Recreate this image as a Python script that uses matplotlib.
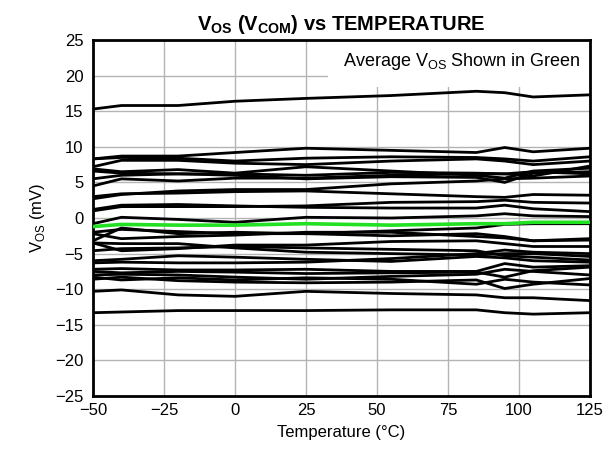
import matplotlib
matplotlib.use("Agg")
import matplotlib.pyplot as plt

plt.rcParams['font.family'] = ['Liberation Sans', 'DejaVu Sans']
plt.rcParams['mathtext.fontset'] = 'custom'
plt.rcParams['mathtext.rm'] = 'Liberation Sans'
plt.rcParams['mathtext.bf'] = 'Liberation Sans:bold'

# temperature points (degC)
temps = [-50, -40, -20, 0, 25, 55, 85, 95, 105, 125]

# Vos of each unit (mV)
units = [
    [15.3, 15.8, 15.8, 16.4, 16.8, 17.2, 17.8, 17.6, 17.0, 17.3],
    [8.3, 8.7, 8.7, 9.2, 9.8, 9.5, 9.2, 9.9, 9.3, 9.8],
    [8.3, 8.5, 8.4, 8.0, 8.4, 8.6, 8.5, 8.3, 8.0, 8.6],
    [7.2, 8.1, 8.1, 7.7, 7.5, 8.0, 8.3, 8.0, 7.5, 8.0],
    [6.9, 6.5, 6.8, 6.3, 7.2, 6.6, 6.0, 5.6, 6.6, 7.0],
    [6.6, 6.3, 6.2, 6.2, 6.0, 6.4, 6.3, 6.2, 5.9, 7.3],
    [5.5, 6.0, 6.2, 6.0, 5.5, 5.8, 5.7, 5.0, 6.3, 6.5],
    [4.5, 5.5, 5.2, 5.6, 5.6, 6.0, 6.2, 6.2, 6.5, 6.2],
    [3.0, 3.4, 3.5, 3.7, 3.8, 3.4, 3.0, 2.9, 3.3, 3.2],
    [2.7, 3.3, 3.8, 4.0, 4.0, 4.8, 5.2, 5.5, 5.6, 5.9],
    [1.0, 1.6, 1.6, 1.6, 1.7, 2.2, 2.3, 2.5, 2.2, 2.1],
    [1.2, 1.8, 1.9, 1.7, 1.5, 1.4, 1.4, 1.8, 1.3, 0.9],
    [-0.8, 0.1, -0.2, -0.6, 0.1, 0.0, 0.3, 0.6, 0.3, 0.2],
    [-2.0, -1.6, -1.9, -2.2, -2.2, -1.8, -1.4, -0.9, -0.8, -0.8],
    [-2.2, -2.9, -2.6, -2.4, -2.0, -2.0, -2.6, -2.8, -3.2, -2.9],
    [-3.2, -1.4, -2.2, -2.0, -2.2, -2.5, -2.2, -2.6, -3.2, -3.1],
    [-3.5, -4.6, -4.3, -3.8, -3.8, -3.3, -3.2, -3.6, -4.0, -4.0],
    [-3.5, -3.6, -3.6, -4.2, -4.8, -5.0, -5.2, -5.0, -5.0, -5.4],
    [-4.6, -4.3, -4.2, -4.0, -4.2, -4.4, -4.6, -5.3, -5.5, -5.9],
    [-6.0, -5.8, -5.3, -5.5, -5.8, -6.1, -5.4, -5.6, -6.0, -6.2],
    [-6.3, -6.2, -6.3, -6.3, -6.2, -5.7, -5.0, -4.5, -4.8, -5.0],
    [-7.2, -7.1, -7.3, -7.3, -7.2, -7.5, -7.5, -6.4, -6.9, -6.7],
    [-7.5, -7.7, -7.5, -7.6, -7.8, -7.7, -7.6, -8.3, -7.4, -6.9],
    [-8.0, -7.9, -8.0, -8.3, -8.6, -8.2, -7.9, -7.2, -7.5, -8.0],
    [-8.6, -8.3, -8.8, -9.0, -9.1, -9.0, -8.7, -9.9, -9.3, -8.5],
    [-8.3, -8.7, -8.4, -8.7, -8.4, -8.6, -9.3, -8.6, -9.0, -9.4],
    [-10.3, -10.1, -10.8, -11.0, -10.3, -10.6, -10.8, -11.2, -11.2, -11.6],
    [-13.3, -13.2, -13.0, -13.0, -13.0, -12.9, -12.9, -13.3, -13.5, -13.3],
]

# average Vos (green)
average = [-1.2, -0.9, -1.0, -1.0, -0.8, -1.0, -0.8, -0.8, -0.6, -0.6]

x_ticks = [-50, -25, 0, 25, 50, 75, 100, 125]
y_ticks = [-25, -20, -15, -10, -5, 0, 5, 10, 15, 20, 25]

fig = plt.figure(figsize=(6.15, 4.49), dpi=100)
ax = fig.add_axes([0.1512, 0.118, 0.808, 0.7929])

for u in units:
    ax.plot(temps, u, color='black', lw=2, solid_joinstyle='round')
ax.plot(temps, average, color='#22e022', lw=2.6, zorder=3)

ax.set_xlim(-50, 125)
ax.set_ylim(-25, 25)
ax.set_xticks(x_ticks)
ax.set_yticks(y_ticks)
ax.grid(True, color='#b4b4b4', lw=1)
ax.set_axisbelow(True)
ax.tick_params(length=0, labelsize=12)
ax.tick_params(axis='x', pad=5)
ax.tick_params(axis='y', pad=7)
for s in ax.spines.values():
    s.set_linewidth(2)

ax.set_xlabel('Temperature (°C)', fontsize=12, labelpad=5)
ax.set_ylabel('V$_{\\mathrm{OS}}$ (mV)', fontsize=12, labelpad=6)
ax.set_title('V$_{\\mathbf{OS}}$ (V$_{\\mathbf{COM}}$) vs TEMPERATURE',
             fontsize=14.5, fontweight='bold', pad=7)

ax.text(0.982, 0.94, 'Average V$_{\\mathrm{OS}}$ Shown in Green',
        transform=ax.transAxes, ha='right', va='center', fontsize=13,
        bbox=dict(facecolor='white', edgecolor='none', pad=11), zorder=2)

fig.savefig('out.png', dpi=100)
